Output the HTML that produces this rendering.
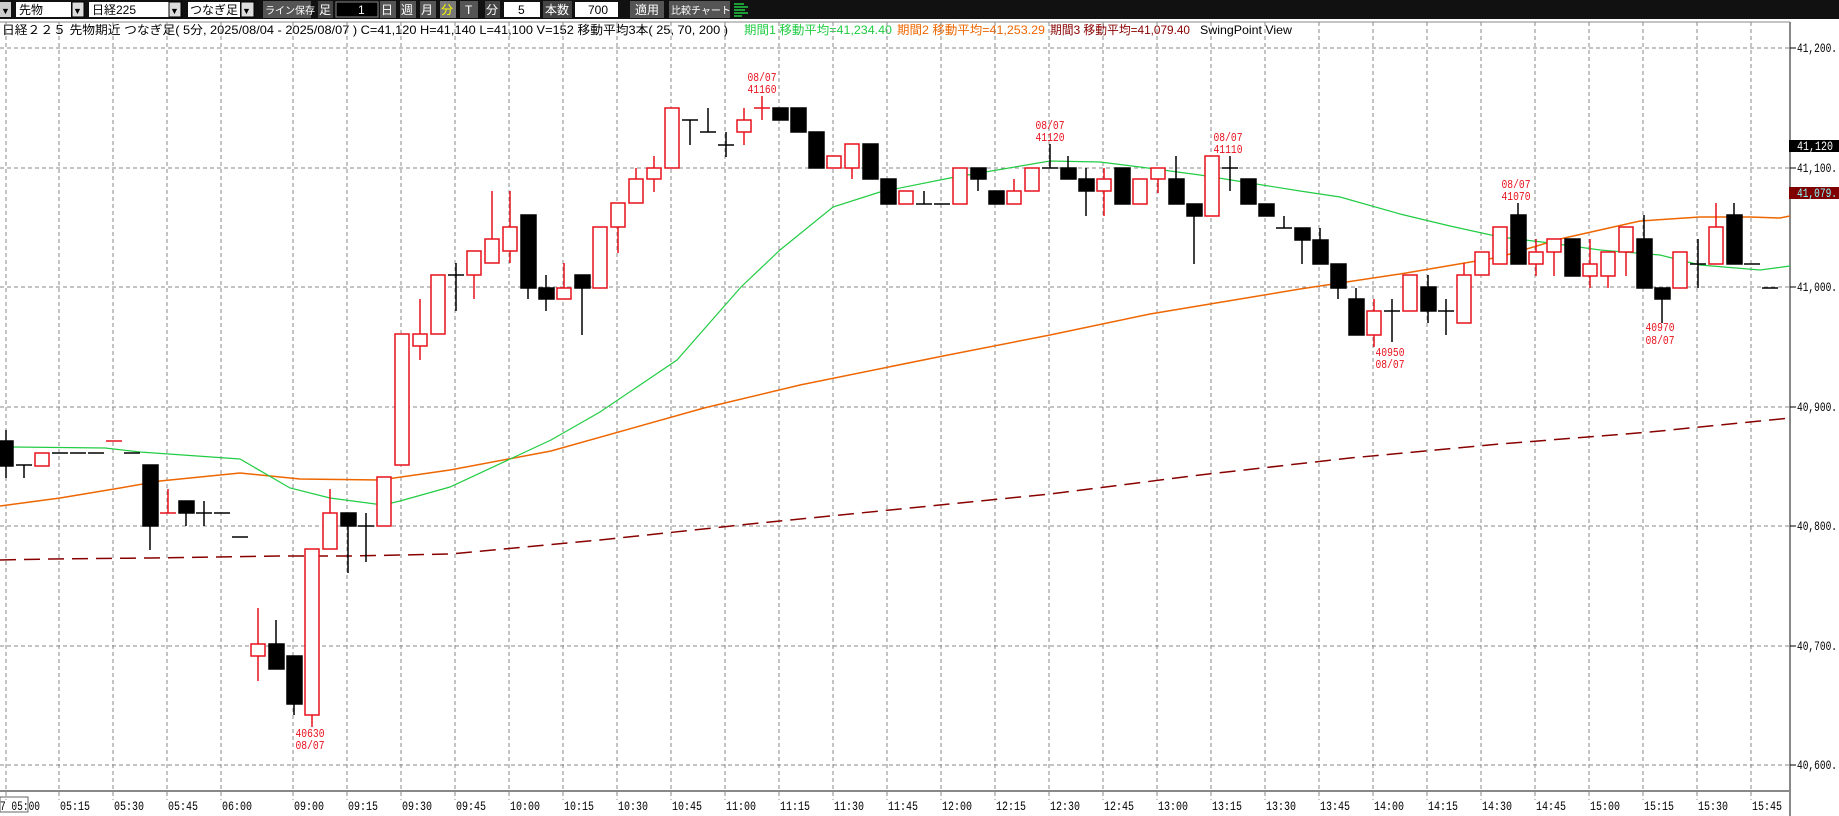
<!DOCTYPE html>
<html><head><meta charset="utf-8"><style>
html,body{margin:0;padding:0;background:#fff;width:1839px;height:816px;overflow:hidden}
svg{display:block}
.t{font-family:"Liberation Sans","Noto Sans CJK JP",sans-serif}
.m{font-family:"Liberation Mono","Noto Sans CJK JP",monospace}
</style></head><body>
<svg width="1839" height="816" viewBox="0 0 1839 816" xmlns="http://www.w3.org/2000/svg">
<rect x="0" y="0" width="1839" height="816" fill="#fff"/>
<rect x="0" y="0" width="1839" height="19" fill="#111"/>
<g class="t" font-size="12">
<rect x="0" y="2" width="11" height="15" fill="#ccc"/><text x="1" y="14" font-size="9">▼</text>
<rect x="16" y="2" width="55" height="15" fill="#fff"/><text x="19" y="14">先物</text>
<rect x="72" y="2" width="12" height="15" fill="#ddd" stroke="#000"/><text x="73" y="14" font-size="9">▼</text>
<rect x="89" y="2" width="80" height="15" fill="#fff"/><text x="92" y="14">日経225</text>
<rect x="169" y="2" width="12" height="15" fill="#ddd" stroke="#000"/><text x="170" y="14" font-size="9">▼</text>
<rect x="188" y="2" width="52" height="15" fill="#fff"/><text x="190" y="14">つなぎ足</text>
<rect x="241" y="2" width="13" height="15" fill="#ddd" stroke="#000"/><text x="242" y="14" font-size="9">▼</text>
<rect x="263" y="1" width="48" height="17" fill="#555"/><text x="265" y="14" fill="#fff" font-size="10">ライン保存</text>
<rect x="318" y="1" width="15" height="17" fill="#444"/><text x="319" y="14" fill="#fff">足</text>
<rect x="336" y="2" width="42" height="15" fill="#000" stroke="#888"/><text x="358" y="14" fill="#fff">1</text>
<rect x="380" y="1" width="16" height="17" fill="#555"/><text x="381" y="14" fill="#fff">日</text>
<rect x="400" y="1" width="16" height="17" fill="#555"/><text x="401" y="14" fill="#fff">週</text>
<rect x="420" y="1" width="16" height="17" fill="#555"/><text x="421" y="14" fill="#fff">月</text>
<rect x="440" y="1" width="16" height="17" fill="#777"/><text x="441" y="14" fill="#ff0">分</text>
<rect x="460" y="1" width="18" height="17" fill="#555"/><text x="465" y="14" fill="#fff">T</text>
<rect x="485" y="1" width="15" height="17" fill="#444"/><text x="486" y="14" fill="#fff">分</text>
<rect x="504" y="2" width="36" height="15" fill="#fff"/><text x="518" y="14">5</text>
<rect x="543" y="1" width="29" height="17" fill="#444"/><text x="545" y="14" fill="#fff">本数</text>
<rect x="575" y="2" width="43" height="15" fill="#fff"/><text x="588" y="14">700</text>
<rect x="630" y="1" width="34" height="17" fill="#555"/><text x="635" y="14" fill="#fff">適用</text>
<rect x="669" y="1" width="61" height="17" fill="#555"/><text x="671" y="14" fill="#fff" font-size="10">比較チャート</text>
<g stroke="#2c4" stroke-width="1.5"><line x1="734" y1="4" x2="744" y2="4"/><line x1="734" y1="7" x2="748" y2="7"/><line x1="734" y1="10" x2="745" y2="10"/><line x1="734" y1="13" x2="748" y2="13"/><line x1="734" y1="16" x2="742" y2="16"/></g>
</g>
<line x1="0" y1="22" x2="1790" y2="22" stroke="#888"/>
<g class="t" font-size="12">
<text x="2" y="34" textLength="726" lengthAdjust="spacingAndGlyphs">日経２２５ 先物期近 つなぎ足( 5分, 2025/08/04 - 2025/08/07 )  C=41,120 H=41,140 L=41,100 V=152    移動平均3本( 25, 70, 200 )</text>
<text x="744" y="34" fill="#2c4" textLength="148" lengthAdjust="spacingAndGlyphs">期間1 移動平均=41,234.40</text>
<text x="897" y="34" fill="#e60" textLength="148" lengthAdjust="spacingAndGlyphs">期間2 移動平均=41,253.29</text>
<text x="1050" y="34" fill="#800" textLength="140" lengthAdjust="spacingAndGlyphs">期間3 移動平均=41,079.40</text>
<text x="1200" y="34" textLength="92" lengthAdjust="spacingAndGlyphs">SwingPoint View</text>
</g>
<g stroke="#888" stroke-dasharray="4,3" stroke-width="1">
<line x1="0" y1="48" x2="1790" y2="48"/><line x1="0" y1="168" x2="1790" y2="168"/><line x1="0" y1="287" x2="1790" y2="287"/><line x1="0" y1="407" x2="1790" y2="407"/><line x1="0" y1="526" x2="1790" y2="526"/><line x1="0" y1="646" x2="1790" y2="646"/><line x1="0" y1="765" x2="1790" y2="765"/>
<line x1="6" y1="22" x2="6" y2="800"/><line x1="59" y1="22" x2="59" y2="800"/><line x1="113" y1="22" x2="113" y2="800"/><line x1="167" y1="22" x2="167" y2="800"/><line x1="221" y1="22" x2="221" y2="800"/>
<line x1="293" y1="22" x2="293" y2="800"/><line x1="347" y1="22" x2="347" y2="800"/><line x1="401" y1="22" x2="401" y2="800"/><line x1="455" y1="22" x2="455" y2="800"/><line x1="509" y1="22" x2="509" y2="800"/><line x1="563" y1="22" x2="563" y2="800"/><line x1="617" y1="22" x2="617" y2="800"/><line x1="671" y1="22" x2="671" y2="800"/><line x1="725" y1="22" x2="725" y2="800"/><line x1="779" y1="22" x2="779" y2="800"/><line x1="833" y1="22" x2="833" y2="800"/><line x1="887" y1="22" x2="887" y2="800"/><line x1="941" y1="22" x2="941" y2="800"/><line x1="995" y1="22" x2="995" y2="800"/><line x1="1049" y1="22" x2="1049" y2="800"/><line x1="1103" y1="22" x2="1103" y2="800"/><line x1="1157" y1="22" x2="1157" y2="800"/><line x1="1211" y1="22" x2="1211" y2="800"/><line x1="1265" y1="22" x2="1265" y2="800"/><line x1="1319" y1="22" x2="1319" y2="800"/><line x1="1373" y1="22" x2="1373" y2="800"/><line x1="1427" y1="22" x2="1427" y2="800"/><line x1="1481" y1="22" x2="1481" y2="800"/><line x1="1535" y1="22" x2="1535" y2="800"/><line x1="1589" y1="22" x2="1589" y2="800"/><line x1="1643" y1="22" x2="1643" y2="800"/><line x1="1697" y1="22" x2="1697" y2="800"/><line x1="1751" y1="22" x2="1751" y2="800"/>
</g>
<line x1="1790" y1="22" x2="1790" y2="816" stroke="#888" stroke-width="2"/>
<line x1="0" y1="791" x2="1790" y2="791" stroke="#888" stroke-width="2"/>
<g stroke="#000"><line x1="1790" y1="48" x2="1796" y2="48"/><line x1="1790" y1="168" x2="1796" y2="168"/><line x1="1790" y1="287" x2="1796" y2="287"/><line x1="1790" y1="407" x2="1796" y2="407"/><line x1="1790" y1="526" x2="1796" y2="526"/><line x1="1790" y1="646" x2="1796" y2="646"/><line x1="1790" y1="765" x2="1796" y2="765"/></g>
<g class="m" font-size="13">
<text x="1797" y="52" textLength="40" lengthAdjust="spacingAndGlyphs">41,200.</text><text x="1797" y="172" textLength="40" lengthAdjust="spacingAndGlyphs">41,100.</text><text x="1797" y="291" textLength="40" lengthAdjust="spacingAndGlyphs">41,000.</text><text x="1797" y="411" textLength="40" lengthAdjust="spacingAndGlyphs">40,900.</text><text x="1797" y="530" textLength="40" lengthAdjust="spacingAndGlyphs">40,800.</text><text x="1797" y="650" textLength="40" lengthAdjust="spacingAndGlyphs">40,700.</text><text x="1797" y="769" textLength="40" lengthAdjust="spacingAndGlyphs">40,600.</text>
<rect x="1789" y="140" width="50" height="12" fill="#000"/><text x="1797" y="150" fill="#fff" textLength="36" lengthAdjust="spacingAndGlyphs">41,120</text>
<rect x="1789" y="187" width="50" height="12" fill="#800000"/><text x="1797" y="197" fill="#8ff" textLength="40" lengthAdjust="spacingAndGlyphs">41,079.</text>
</g>
<g class="m" font-size="13">
<rect x="0" y="797" width="28" height="15" fill="none" stroke="#666"/>
<text x="0" y="810" textLength="40" lengthAdjust="spacingAndGlyphs">7 05:00</text><text x="60" y="810" textLength="30" lengthAdjust="spacingAndGlyphs">05:15</text><text x="114" y="810" textLength="30" lengthAdjust="spacingAndGlyphs">05:30</text><text x="168" y="810" textLength="30" lengthAdjust="spacingAndGlyphs">05:45</text><text x="222" y="810" textLength="30" lengthAdjust="spacingAndGlyphs">06:00</text><text x="294" y="810" textLength="30" lengthAdjust="spacingAndGlyphs">09:00</text><text x="348" y="810" textLength="30" lengthAdjust="spacingAndGlyphs">09:15</text><text x="402" y="810" textLength="30" lengthAdjust="spacingAndGlyphs">09:30</text><text x="456" y="810" textLength="30" lengthAdjust="spacingAndGlyphs">09:45</text><text x="510" y="810" textLength="30" lengthAdjust="spacingAndGlyphs">10:00</text><text x="564" y="810" textLength="30" lengthAdjust="spacingAndGlyphs">10:15</text><text x="618" y="810" textLength="30" lengthAdjust="spacingAndGlyphs">10:30</text><text x="672" y="810" textLength="30" lengthAdjust="spacingAndGlyphs">10:45</text><text x="726" y="810" textLength="30" lengthAdjust="spacingAndGlyphs">11:00</text><text x="780" y="810" textLength="30" lengthAdjust="spacingAndGlyphs">11:15</text><text x="834" y="810" textLength="30" lengthAdjust="spacingAndGlyphs">11:30</text><text x="888" y="810" textLength="30" lengthAdjust="spacingAndGlyphs">11:45</text><text x="942" y="810" textLength="30" lengthAdjust="spacingAndGlyphs">12:00</text><text x="996" y="810" textLength="30" lengthAdjust="spacingAndGlyphs">12:15</text><text x="1050" y="810" textLength="30" lengthAdjust="spacingAndGlyphs">12:30</text><text x="1104" y="810" textLength="30" lengthAdjust="spacingAndGlyphs">12:45</text><text x="1158" y="810" textLength="30" lengthAdjust="spacingAndGlyphs">13:00</text><text x="1212" y="810" textLength="30" lengthAdjust="spacingAndGlyphs">13:15</text><text x="1266" y="810" textLength="30" lengthAdjust="spacingAndGlyphs">13:30</text><text x="1320" y="810" textLength="30" lengthAdjust="spacingAndGlyphs">13:45</text><text x="1374" y="810" textLength="30" lengthAdjust="spacingAndGlyphs">14:00</text><text x="1428" y="810" textLength="30" lengthAdjust="spacingAndGlyphs">14:15</text><text x="1482" y="810" textLength="30" lengthAdjust="spacingAndGlyphs">14:30</text><text x="1536" y="810" textLength="30" lengthAdjust="spacingAndGlyphs">14:45</text><text x="1590" y="810" textLength="30" lengthAdjust="spacingAndGlyphs">15:00</text><text x="1644" y="810" textLength="30" lengthAdjust="spacingAndGlyphs">15:15</text><text x="1698" y="810" textLength="30" lengthAdjust="spacingAndGlyphs">15:30</text><text x="1752" y="810" textLength="30" lengthAdjust="spacingAndGlyphs">15:45</text>
</g>
<polyline fill="none" stroke="#800" stroke-width="1.5" stroke-dasharray="16,8" points="0,560 50,559 150,558 280,556 350,556 450,554 600,540 750,524 900,509 1050,494 1200,475 1350,458 1500,444 1650,432 1790,418"/>
<polyline fill="none" stroke="#e60" stroke-width="1.5" points="0,506 60,498 120,488 160,481 240,473 300,479 380,480 450,470 551,451 704,408 800,385 943,356 1050,335 1150,314 1210,304 1300,289 1400,274 1500,257 1560,239 1600,230 1640,221 1700,217 1750,217 1780,218 1790,216"/>
<polyline fill="none" stroke="#2c4" stroke-width="1.2" points="0,447 13,447 105,448 140,452 240,459 290,488 330,498 383,505 400,501 450,487 551,440 600,412 640,385 677,360 741,287 780,250 833,207 880,192 950,178 1050,161 1100,162 1140,167 1200,175 1300,191 1340,197 1400,214 1450,226 1500,237 1550,243 1600,250 1660,255 1700,265 1760,270 1790,266"/>
<g stroke-width="1.5">
<g stroke="#000"><line x1="6" y1="430" x2="6" y2="478"/><rect x="0" y="441" width="13" height="25" fill="#000"/>
<line x1="24" y1="465" x2="24" y2="478"/><line x1="16" y1="465" x2="32" y2="465"/>
<line x1="52" y1="453" x2="68" y2="453"/><line x1="70" y1="453" x2="86" y2="453"/><line x1="88" y1="453" x2="104" y2="453"/><line x1="124" y1="453" x2="140" y2="453"/>
<line x1="150" y1="465" x2="150" y2="550"/><rect x="143" y="465" width="15" height="61" fill="#000"/>
<line x1="186" y1="501" x2="186" y2="526"/><rect x="179" y="501" width="15" height="12" fill="#000"/>
<line x1="204" y1="501" x2="204" y2="526"/><line x1="196" y1="513" x2="212" y2="513"/>
<line x1="214" y1="513" x2="230" y2="513"/><line x1="232" y1="537" x2="248" y2="537"/>
<line x1="276" y1="620" x2="276" y2="669"/><rect x="269" y="644" width="15" height="25" fill="#000"/>
<line x1="294" y1="656" x2="294" y2="715"/><rect x="287" y="656" width="15" height="48" fill="#000"/>
<line x1="348" y1="513" x2="348" y2="573"/><rect x="341" y="513" width="15" height="13" fill="#000"/>
<line x1="366" y1="513" x2="366" y2="562"/><line x1="358" y1="526" x2="374" y2="526"/>
<line x1="456" y1="263" x2="456" y2="311"/><line x1="448" y1="275" x2="464" y2="275"/>
<line x1="528" y1="215" x2="528" y2="299"/><rect x="521" y="215" width="15" height="73" fill="#000"/>
<line x1="546" y1="275" x2="546" y2="311"/><rect x="539" y="288" width="15" height="11" fill="#000"/>
<line x1="582" y1="275" x2="582" y2="335"/><rect x="575" y="275" width="15" height="13" fill="#000"/>
<line x1="690" y1="120" x2="690" y2="145"/><line x1="682" y1="120" x2="698" y2="120"/>
<line x1="708" y1="108" x2="708" y2="132"/><line x1="700" y1="132" x2="716" y2="132"/>
<line x1="726" y1="132" x2="726" y2="157"/><line x1="718" y1="145" x2="734" y2="145"/>
<rect x="773" y="108" width="15" height="12" fill="#000"/>
<rect x="791" y="108" width="15" height="24" fill="#000"/>
<rect x="809" y="132" width="15" height="36" fill="#000"/>
<rect x="863" y="144" width="15" height="35" fill="#000"/>
<rect x="881" y="179" width="15" height="25" fill="#000"/>
<line x1="924" y1="191" x2="924" y2="204"/><line x1="916" y1="204" x2="932" y2="204"/>
<line x1="934" y1="204" x2="950" y2="204"/>
<line x1="978" y1="168" x2="978" y2="191"/><rect x="971" y="168" width="15" height="11" fill="#000"/>
<rect x="989" y="191" width="15" height="13" fill="#000"/>
<line x1="1050" y1="144" x2="1050" y2="168"/><line x1="1042" y1="168" x2="1058" y2="168"/>
<line x1="1068" y1="156" x2="1068" y2="168"/><rect x="1061" y="168" width="15" height="11" fill="#000"/>
<line x1="1086" y1="168" x2="1086" y2="216"/><rect x="1079" y="179" width="15" height="12" fill="#000"/>
<rect x="1115" y="168" width="15" height="36" fill="#000"/>
<line x1="1176" y1="156" x2="1176" y2="179"/><rect x="1169" y="179" width="15" height="25" fill="#000"/>
<line x1="1194" y1="204" x2="1194" y2="264"/><rect x="1187" y="204" width="15" height="12" fill="#000"/>
<line x1="1230" y1="156" x2="1230" y2="191"/><line x1="1222" y1="168" x2="1238" y2="168"/>
<rect x="1241" y="179" width="15" height="25" fill="#000"/>
<rect x="1259" y="204" width="15" height="12" fill="#000"/>
<line x1="1284" y1="216" x2="1284" y2="228"/><line x1="1276" y1="228" x2="1292" y2="228"/>
<line x1="1302" y1="228" x2="1302" y2="264"/><rect x="1295" y="228" width="15" height="12" fill="#000"/>
<line x1="1320" y1="228" x2="1320" y2="264"/><rect x="1313" y="240" width="15" height="24" fill="#000"/>
<line x1="1338" y1="264" x2="1338" y2="299"/><rect x="1331" y="264" width="15" height="24" fill="#000"/>
<line x1="1356" y1="288" x2="1356" y2="335"/><rect x="1349" y="299" width="15" height="36" fill="#000"/>
<line x1="1392" y1="299" x2="1392" y2="342"/><line x1="1384" y1="311" x2="1400" y2="311"/>
<line x1="1428" y1="275" x2="1428" y2="323"/><rect x="1421" y="287" width="15" height="24" fill="#000"/>
<line x1="1446" y1="299" x2="1446" y2="335"/><line x1="1438" y1="311" x2="1454" y2="311"/>
<line x1="1518" y1="203" x2="1518" y2="264"/><rect x="1511" y="215" width="15" height="49" fill="#000"/>
<rect x="1565" y="239" width="15" height="37" fill="#000"/>
<line x1="1644" y1="215" x2="1644" y2="288"/><rect x="1637" y="239" width="15" height="49" fill="#000"/>
<line x1="1662" y1="288" x2="1662" y2="323"/><rect x="1655" y="288" width="15" height="11" fill="#000"/>
<line x1="1698" y1="239" x2="1698" y2="288"/><line x1="1690" y1="264" x2="1706" y2="264"/>
<line x1="1734" y1="203" x2="1734" y2="264"/><rect x="1727" y="215" width="15" height="49" fill="#000"/>
<line x1="1744" y1="264" x2="1760" y2="264"/><line x1="1762" y1="288" x2="1778" y2="288"/>
</g>
<g stroke="#e8101c" fill="#fff">
<rect x="35" y="453" width="14" height="13"/>
<line x1="106" y1="441" x2="122" y2="441"/>
<line x1="168" y1="489" x2="168" y2="513"/><line x1="160" y1="513" x2="176" y2="513"/>
<line x1="258" y1="608" x2="258" y2="681"/><rect x="251" y="644" width="14" height="12"/>
<line x1="312" y1="715" x2="312" y2="727"/><rect x="305" y="549" width="14" height="166"/>
<line x1="330" y1="489" x2="330" y2="513"/><rect x="323" y="513" width="14" height="36"/>
<rect x="377" y="477" width="14" height="49"/>
<rect x="395" y="334" width="14" height="131"/>
<line x1="420" y1="299" x2="420" y2="360"/><rect x="413" y="334" width="14" height="12"/>
<rect x="431" y="275" width="14" height="59"/>
<line x1="474" y1="275" x2="474" y2="299"/><rect x="467" y="251" width="14" height="24"/>
<line x1="492" y1="191" x2="492" y2="239"/><rect x="485" y="239" width="14" height="24"/>
<line x1="510" y1="191" x2="510" y2="263"/><rect x="503" y="227" width="14" height="24"/>
<line x1="564" y1="263" x2="564" y2="288"/><rect x="557" y="288" width="14" height="11"/>
<rect x="593" y="227" width="14" height="61"/>
<line x1="618" y1="227" x2="618" y2="253"/><rect x="611" y="203" width="14" height="24"/>
<line x1="636" y1="168" x2="636" y2="179"/><rect x="629" y="179" width="14" height="24"/>
<line x1="654" y1="156" x2="654" y2="192"/><rect x="647" y="168" width="14" height="11"/>
<rect x="665" y="108" width="14" height="60"/>
<line x1="744" y1="108" x2="744" y2="145"/><rect x="737" y="120" width="14" height="12"/>
<line x1="762" y1="96" x2="762" y2="120"/><line x1="754" y1="108" x2="770" y2="108"/>
<rect x="827" y="156" width="14" height="12"/>
<line x1="852" y1="168" x2="852" y2="179"/><rect x="845" y="144" width="14" height="24"/>
<rect x="899" y="191" width="14" height="13"/>
<rect x="953" y="168" width="14" height="36"/>
<line x1="1014" y1="179" x2="1014" y2="191"/><rect x="1007" y="191" width="14" height="13"/>
<rect x="1025" y="168" width="14" height="23"/>
<line x1="1104" y1="168" x2="1104" y2="216"/><rect x="1097" y="179" width="14" height="12"/>
<rect x="1133" y="179" width="14" height="25"/>
<line x1="1158" y1="179" x2="1158" y2="193"/><rect x="1151" y="168" width="14" height="11"/>
<rect x="1205" y="156" width="14" height="60"/>
<line x1="1374" y1="299" x2="1374" y2="347"/><rect x="1367" y="311" width="14" height="24"/>
<rect x="1403" y="275" width="14" height="36"/>
<line x1="1464" y1="263" x2="1464" y2="275"/><rect x="1457" y="275" width="14" height="48"/>
<rect x="1475" y="252" width="14" height="23"/>
<rect x="1493" y="227" width="14" height="37"/>
<line x1="1536" y1="239" x2="1536" y2="276"/><rect x="1529" y="252" width="14" height="12"/>
<line x1="1554" y1="252" x2="1554" y2="276"/><rect x="1547" y="239" width="14" height="13"/>
<line x1="1590" y1="239" x2="1590" y2="288"/><rect x="1583" y="264" width="14" height="12"/>
<line x1="1608" y1="276" x2="1608" y2="288"/><rect x="1601" y="252" width="14" height="24"/>
<line x1="1626" y1="252" x2="1626" y2="276"/><rect x="1619" y="227" width="14" height="25"/>
<rect x="1673" y="252" width="14" height="36"/>
<line x1="1716" y1="203" x2="1716" y2="227"/><rect x="1709" y="227" width="14" height="37"/>
</g>
</g>
<g class="m" font-size="12" fill="#e8101c" text-anchor="middle">
<text x="762" y="81" textLength="29" lengthAdjust="spacingAndGlyphs">08/07</text><text x="762" y="93" textLength="29" lengthAdjust="spacingAndGlyphs">41160</text>
<text x="1050" y="129" textLength="29" lengthAdjust="spacingAndGlyphs">08/07</text><text x="1050" y="141" textLength="29" lengthAdjust="spacingAndGlyphs">41120</text>
<text x="1228" y="141" textLength="29" lengthAdjust="spacingAndGlyphs">08/07</text><text x="1228" y="153" textLength="29" lengthAdjust="spacingAndGlyphs">41110</text>
<text x="310" y="737" textLength="29" lengthAdjust="spacingAndGlyphs">40630</text><text x="310" y="749" textLength="29" lengthAdjust="spacingAndGlyphs">08/07</text>
<text x="1390" y="356" textLength="29" lengthAdjust="spacingAndGlyphs">40950</text><text x="1390" y="368" textLength="29" lengthAdjust="spacingAndGlyphs">08/07</text>
<text x="1516" y="188" textLength="29" lengthAdjust="spacingAndGlyphs">08/07</text><text x="1516" y="200" textLength="29" lengthAdjust="spacingAndGlyphs">41070</text>
<text x="1660" y="331" textLength="29" lengthAdjust="spacingAndGlyphs">40970</text><text x="1660" y="344" textLength="29" lengthAdjust="spacingAndGlyphs">08/07</text>
</g>
</svg>
</body></html>
